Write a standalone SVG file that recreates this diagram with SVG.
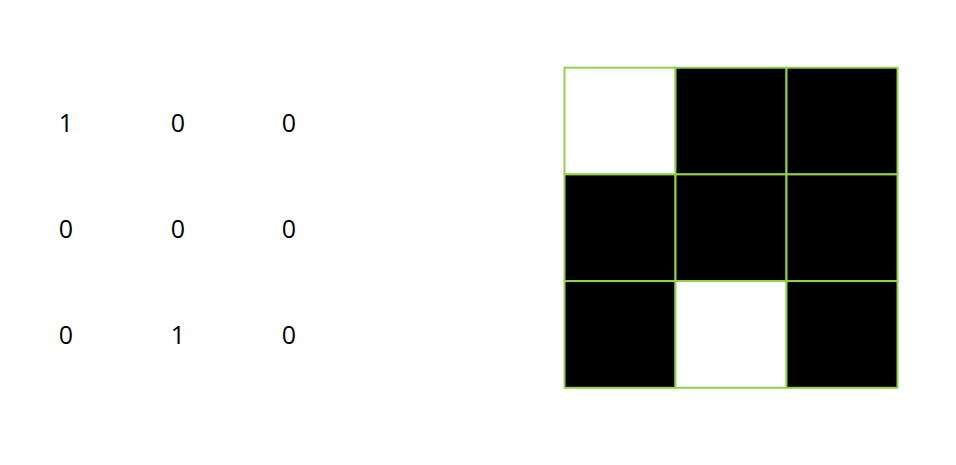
<svg xmlns="http://www.w3.org/2000/svg" width="956" height="465" viewBox="0 0 956 465">
<style>
.n{font-family:"Open Sans","Noto Sans",sans-serif;font-size:25px;fill:#000;text-anchor:middle}
.c{stroke:#92D050;stroke-width:2}
.b{fill:#000}
.w{fill:#fff}
</style>
<rect width="956" height="465" fill="#fff"/>
<g id="matrix">
<text class="n" x="66" y="132">1</text>
<text class="n" x="178" y="132">0</text>
<text class="n" x="289" y="132">0</text>
<text class="n" x="66" y="238">0</text>
<text class="n" x="178" y="238">0</text>
<text class="n" x="289" y="238">0</text>
<text class="n" x="66" y="344">0</text>
<text class="n" x="178" y="344">1</text>
<text class="n" x="289" y="344">0</text>
</g>
<g id="grid">
<rect class="c w" x="564.5" y="67.7" width="111" height="106.7"/>
<rect class="c b" x="675.5" y="67.7" width="111" height="106.7"/>
<rect class="c b" x="786.5" y="67.7" width="111" height="106.7"/>
<rect class="c b" x="564.5" y="174.4" width="111" height="106.7"/>
<rect class="c b" x="675.5" y="174.4" width="111" height="106.7"/>
<rect class="c b" x="786.5" y="174.4" width="111" height="106.7"/>
<rect class="c b" x="564.5" y="281.1" width="111" height="106.7"/>
<rect class="c w" x="675.5" y="281.1" width="111" height="106.7"/>
<rect class="c b" x="786.5" y="281.1" width="111" height="106.7"/>
</g>
</svg>
